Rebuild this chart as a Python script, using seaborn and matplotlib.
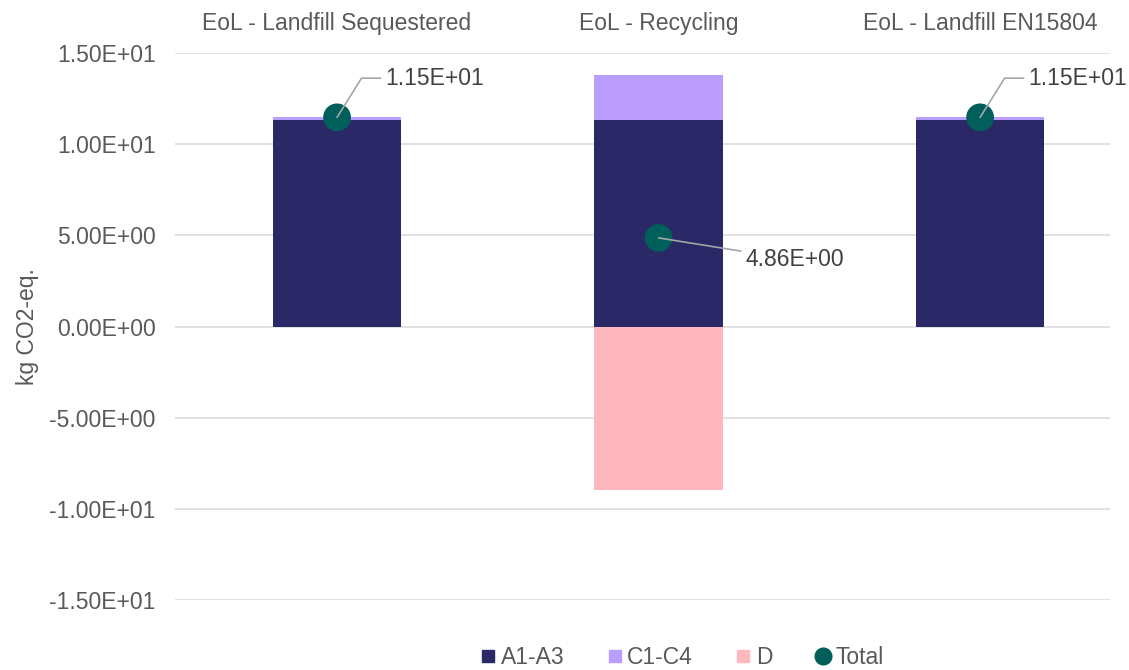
import matplotlib
matplotlib.use("Agg")
import matplotlib.pyplot as plt
from matplotlib.lines import Line2D
import numpy as np
import pandas as pd
import seaborn as sns

# Scenario data (kg CO2-eq.)
scenarios = ["EoL - Landfill Sequestered", "EoL - Recycling", "EoL - Landfill EN15804"]
a1_a3 = [11.30, 11.30, 11.30]
c1_c4 = [0.17, 2.52, 0.17]
d_mod = [0.0, -8.96, 0.0]
totals = [11.47, 4.86, 11.47]
total_labels = ["1.15E+01", "4.86E+00", "1.15E+01"]
y_ticks = [-15, -10, -5, 0, 5, 10, 15]

col_a = "#2A2867"
col_c = "#BB9DFF"
col_d = "#FFB7BE"
col_t = "#005F5A"
txt = "#595959"
fs = 16.5

sns.set_style("white")
plt.rcParams["font.family"] = ["Liberation Sans", "DejaVu Sans"]

df = pd.DataFrame({
    "scenario": scenarios,
    "A1-A3": a1_a3,
    "C1-C4": c1_c4,
    "D": d_mod,
    "Total": totals,
})
df["A+C"] = df["A1-A3"] + df["C1-C4"]
df["pos"] = np.arange(len(scenarios))

fig = plt.figure(figsize=(11.29, 6.70), dpi=100)
ax = fig.add_axes([175 / 1129, 1 - 600 / 670, 935 / 1129, 547 / 670])

bw = 0.4
# stacked positive part: C1-C4 sits on top of A1-A3
sns.barplot(data=df, x="scenario", y="A+C", color=col_c, width=bw,
            saturation=1, linewidth=0, ax=ax, zorder=2)
sns.barplot(data=df, x="scenario", y="A1-A3", color=col_a, width=bw,
            saturation=1, linewidth=0, ax=ax, zorder=3)
# negative part: module D
sns.barplot(data=df, x="scenario", y="D", color=col_d, width=bw,
            saturation=1, linewidth=0, ax=ax, zorder=2)
sns.scatterplot(data=df, x="pos", y="Total", color=col_t, s=400,
                edgecolor="none", ax=ax, zorder=5, legend=False)

# value labels with leader lines
for i, (v, lab) in enumerate(zip(totals, total_labels)):
    if i == 1:
        ax.annotate(lab, xy=(i, v), xytext=(i + 0.27, v - 1.2),
                    ha="left", va="center", fontsize=fs, color="#404040",
                    arrowprops=dict(arrowstyle="-", color="#A6A6A6", lw=1.2,
                                    shrinkA=1, shrinkB=0), zorder=6)
    else:
        ax.annotate(lab, xy=(i, v), xytext=(i + 0.15, v + 2.15),
                    ha="left", va="center", fontsize=fs, color="#404040",
                    arrowprops=dict(arrowstyle="-", color="#A6A6A6", lw=1.2,
                                    connectionstyle="angle,angleA=0,angleB=58,rad=0",
                                    shrinkA=1, shrinkB=0), zorder=6)

ax.set_ylim(-15, 15)
ax.set_xlim(-0.504, 2.404)
ax.set_yticks(y_ticks)
ax.set_yticklabels([f"{t:.2E}" for t in y_ticks])
ax.yaxis.grid(True, color="#D9D9D9", lw=1.1, zorder=0)
ax.set_axisbelow(True)
ax.xaxis.tick_top()
ax.tick_params(axis="x", length=0, labelsize=fs, colors=txt, pad=13)
ax.tick_params(axis="y", length=0, labelsize=fs, colors=txt, pad=14)
ax.set_xlabel("")
ax.set_ylabel("kg CO2-eq.", fontsize=fs, color=txt, labelpad=7)
for s in ax.spines.values():
    s.set_visible(False)

handles = [
    Line2D([], [], marker="s", ls="none", color=col_a, markersize=9),
    Line2D([], [], marker="s", ls="none", color=col_c, markersize=9),
    Line2D([], [], marker="s", ls="none", color=col_d, markersize=9),
    Line2D([], [], marker="o", ls="none", color=col_t, markersize=12),
]
leg = fig.legend(handles, ["A1-A3", "C1-C4", "D", "Total"], loc="center",
                 bbox_to_anchor=(0.603, 1 - 658 / 670), ncol=4, frameon=False,
                 fontsize=fs, handletextpad=0.1, columnspacing=1.75,
                 handlelength=0.9)
for t in leg.get_texts():
    t.set_color(txt)

fig.savefig("out.png", dpi=100)
